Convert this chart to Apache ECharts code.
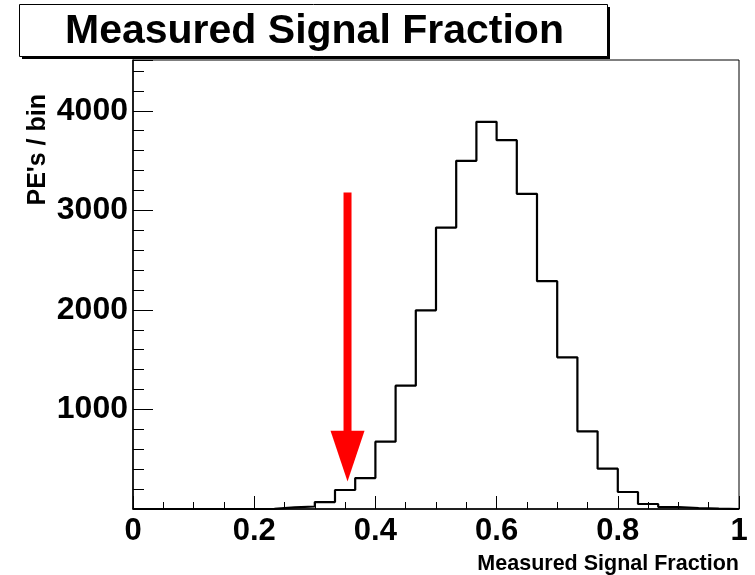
<!DOCTYPE html>
<html>
<head>
<meta charset="utf-8">
<script src="https://cdn.jsdelivr.net/npm/echarts@6/dist/echarts.min.js"></script>
<style>
  html, body { margin: 0; padding: 0; background: #fff; }
  #main { width: 755px; height: 575px; }
</style>
</head>
<body>
<div id="main"></div>
<script>
// histogram: 30 bins from 0 to 1
var binCount = 30;
var binCounts = [
  0, 0, 0, 0, 0, 0, 2, 16, 25, 70,
  191, 311, 676, 1239, 1996, 2827, 3497, 3889, 3705, 3166,
  2288, 1524, 780, 405, 171, 50, 20, 10, 3, 0
];
var xTicks = [0, 0.2, 0.4, 0.6, 0.8, 1];
var yTicks = [1000, 2000, 3000, 4000];
// red arrow (x, top, tip) in data units
var arrowX = [0.354];
var arrowTop = [3180];
var arrowTip = [277];
var arrowHeadTop = [787];

var FONT = '"Liberation Sans", Arial, sans-serif';

// step line points at bin left edges
var histData = [];
binCounts.forEach(function (v, i) {
  histData.push([i / binCount, v]);
});
histData.push([1, 0]);

var chart = echarts.init(document.getElementById('main'));

chart.setOption({
  animation: false,
  backgroundColor: '#fff',
  grid: {
    left: 133, right: 16, top: 60, bottom: 66,
    show: true, borderColor: '#000', borderWidth: 1, backgroundColor: 'transparent'
  },
  xAxis: {
    type: 'value', min: 0, max: 1, interval: 0.2,
    axisLine: { show: true, lineStyle: { color: '#000', width: 1.5 } },
    axisTick: { show: true, inside: true, length: 13, lineStyle: { color: '#000' } },
    minorTick: { show: true, splitNumber: 4, length: 7, lineStyle: { color: '#000' } },
    splitLine: { show: false },
    axisLabel: {
      color: '#000', fontFamily: FONT, fontWeight: 'bold', fontSize: 31, margin: 7,
      formatter: function (v) {
        var r = Math.round(v * 10) / 10;
        return xTicks.indexOf(r) >= 0 ? String(r) : '';
      }
    }
  },
  yAxis: {
    type: 'value', min: 0, max: 4510, interval: 1000,
    axisLine: { show: true, lineStyle: { color: '#000', width: 1.5 } },
    axisTick: { show: true, inside: true, length: 20, lineStyle: { color: '#000' } },
    minorTick: { show: true, splitNumber: 5, length: 11, lineStyle: { color: '#000' } },
    splitLine: { show: false },
    axisLabel: {
      color: '#000', fontFamily: FONT, fontWeight: 'bold', fontSize: 32, margin: 5,
      showMaxLabel: false,
      formatter: function (v) { return yTicks.indexOf(v) >= 0 ? String(v) : ''; }
    }
  },
  series: [
    {
      type: 'line',
      step: 'end',
      data: histData,
      symbol: 'none',
      lineStyle: { color: '#000', width: 2.2 },
      z: 3
    },
    {
      type: 'custom',
      data: [[arrowX[0], arrowTop[0], arrowTip[0], arrowHeadTop[0]]],
      z: 4,
      renderItem: function (params, api) {
        var top = api.coord([api.value(0), api.value(1)]);
        var tip = api.coord([api.value(0), api.value(2)]);
        var head = api.coord([api.value(0), api.value(3)]);
        var shaftW = 8, headHalf = 17;
        return {
          type: 'group',
          children: [
            {
              type: 'rect',
              shape: { x: top[0] - shaftW / 2, y: top[1], width: shaftW, height: head[1] - top[1] + 1 },
              style: { fill: '#ff0000' }
            },
            {
              type: 'polygon',
              shape: { points: [[head[0] - headHalf, head[1]], [head[0] + headHalf, head[1]], [tip[0], tip[1]]] },
              style: { fill: '#ff0000' }
            }
          ]
        };
      }
    }
  ],
  graphic: [
    // title box with shadow
    { type: 'rect', left: 22, top: 7, shape: { width: 588, height: 52 }, style: { fill: '#000' }, z: 10 },
    { type: 'rect', left: 19, top: 4, shape: { width: 588, height: 52 }, style: { fill: '#fff', stroke: '#000', lineWidth: 1 }, z: 11 },
    {
      type: 'text', left: 65, top: 11, z: 12,
      style: { text: 'Measured Signal Fraction', fill: '#000', font: 'bold 41px ' + FONT }
    },
    {
      type: 'text', right: 16, top: 553,
      style: { text: 'Measured Signal Fraction', fill: '#000', font: 'bold 21.5px ' + FONT }
    },
    {
      type: 'text', x: 26, y: 94, rotation: Math.PI / 2,
      style: { text: "PE's / bin", fill: '#000', font: 'bold 25px ' + FONT, align: 'right', verticalAlign: 'top' }
    }
  ]
});
</script>
</body>
</html>
